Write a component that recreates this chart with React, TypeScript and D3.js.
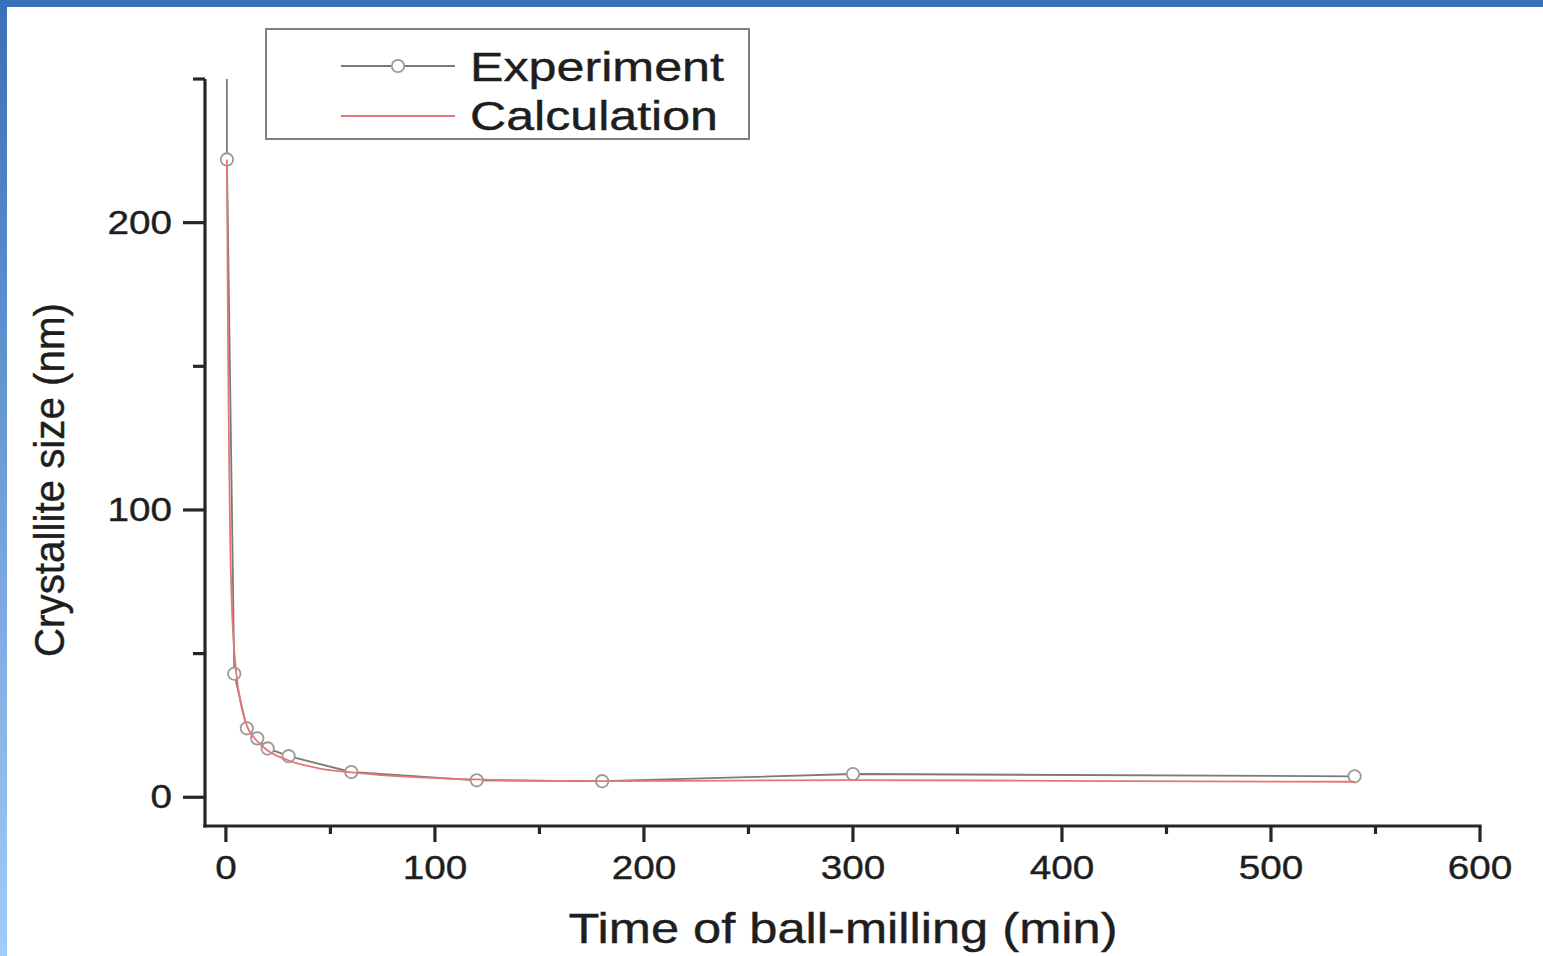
import React from 'react'
import * as d3 from 'd3'

// crystallite size vs ball-milling time
const expTime = [0, 0.5, 4, 10, 15, 20, 30, 60, 120, 180, 300, 540]
const expSize = [600, 222, 43, 24, 20.5, 17, 14.3, 8.8, 5.9, 5.6, 8.1, 7.3]

const calcTime = [0.5, 1, 1.5, 2, 3, 4, 5, 7, 10, 15, 20, 30, 45, 60, 90, 120, 180, 240, 300, 400, 540]
const calcSize = [222, 160, 120, 92, 64, 51, 43, 33, 25, 19.5, 16.3, 12.8, 10, 8.7, 7, 6.2, 5.6, 5.8, 6.0, 5.7, 5.4]

const xMajor = [0, 100, 200, 300, 400, 500, 600]
const xMinor = [50, 150, 250, 350, 450, 550]
const yMajor = [0, 100, 200]
const yMinor = [50, 150, 250]

const FONT = '"Liberation Sans", Arial, Helvetica, sans-serif'
const INK = '#1e1e1e'

function App () {
  const width = 1543
  const height = 956
  const left = 205
  const right = 1480
  const top = 79
  const bottom = 826

  const x = d3.scaleLinear().domain([-10, 600]).range([left, right])
  const y = d3.scaleLinear().domain([-10, 250]).range([bottom, top])

  const expData = expTime.map((t, i) => [t, expSize[i]] as [number, number])
  const calcData = calcTime.map((t, i) => [t, calcSize[i]] as [number, number])

  const expLine = d3.line<[number, number]>()
    .x(d => x(d[0]))
    .y(d => y(d[1]))
  const calcLine = d3.line<[number, number]>()
    .x(d => x(d[0]))
    .y(d => y(d[1]))
    .curve(d3.curveMonotoneX)

  return (
    <svg width={width} height={height}
      style={{ position: 'absolute', left: 0, top: 0, background: '#fff' }}>
      <defs>
        <linearGradient id='side' x1='0' y1='0' x2='0' y2='1'>
          <stop offset='0%' stopColor='#3a70b8' />
          <stop offset='100%' stopColor='#a3cbf8' />
        </linearGradient>
        <clipPath id='plot'>
          <rect x={left} y={top} width={right - left} height={bottom - top} />
        </clipPath>
      </defs>
      <rect x={0} y={0} width={width} height={7} fill='#3871b8' />
      <rect x={0} y={0} width={7} height={height} fill='url(#side)' />

      <g clipPath='url(#plot)'>
        <path d={expLine(expData) || ''} fill='none' stroke='#7a7a7a' strokeWidth={1.8} />
        {expData.map((d, i) => (
          <circle key={i} cx={x(d[0])} cy={y(d[1])} r={6.2}
            fill='#fff' stroke='#9a9a9a' strokeWidth={1.8} />
        ))}
        <path d={calcLine(calcData) || ''} fill='none' stroke='#e77575' strokeWidth={1.8} />
      </g>

      {/* axes */}
      <g stroke='#262626' strokeWidth={3.2}>
        <line x1={left} y1={top} x2={left} y2={bottom + 1.6} />
        <line x1={left - 1.6} y1={bottom} x2={right + 1.6} y2={bottom} />
        {xMajor.map(v => <line key={'xM' + v} x1={x(v)} x2={x(v)} y1={bottom} y2={bottom + 16} />)}
        {xMinor.map(v => <line key={'xm' + v} x1={x(v)} x2={x(v)} y1={bottom} y2={bottom + 8} />)}
        {yMajor.map(v => <line key={'yM' + v} x1={left} x2={left - 22} y1={y(v)} y2={y(v)} />)}
        {yMinor.map(v => <line key={'ym' + v} x1={left} x2={left - 12} y1={y(v)} y2={y(v)} />)}
      </g>

      <g fontFamily={FONT} fontSize={33} fill={INK} stroke={INK} strokeWidth={0.4}>
        {xMajor.map(v => {
          const s = String(v)
          return (
            <text key={'xl' + v} x={x(v)} y={879} textAnchor='middle'
              textLength={s.length * 21.5} lengthAdjust='spacingAndGlyphs'>{s}</text>
          )
        })}
        {yMajor.map(v => {
          const s = String(v)
          return (
            <text key={'yl' + v} x={172} y={y(v) + 11} textAnchor='end'
              textLength={s.length * 21.5} lengthAdjust='spacingAndGlyphs'>{s}</text>
          )
        })}
      </g>

      <g fontFamily={FONT} fill={INK} stroke={INK} strokeWidth={0.4}>
        <text x={843} y={943} textAnchor='middle' fontSize={42}
          textLength={549} lengthAdjust='spacingAndGlyphs'>Time of ball-milling (min)</text>
        <text transform='translate(64,480) rotate(-90)' textAnchor='middle'
          fontSize={42} textLength={354} lengthAdjust='spacingAndGlyphs'>
          Crystallite size (nm)
        </text>
      </g>

      {/* legend */}
      <rect x={266} y={29} width={483} height={110} fill='#fff' stroke='#808080' strokeWidth={2} />
      <line x1={341} x2={455} y1={66} y2={66} stroke='#7a7a7a' strokeWidth={1.8} />
      <circle cx={398} cy={66} r={6.2} fill='#fff' stroke='#9a9a9a' strokeWidth={1.8} />
      <line x1={341} x2={455} y1={116} y2={116} stroke='#e77575' strokeWidth={1.8} />
      <g fontFamily={FONT} fontSize={40} fill={INK} stroke={INK} strokeWidth={0.4}>
        <text x={470} y={81} textLength={254} lengthAdjust='spacingAndGlyphs'>Experiment</text>
        <text x={470} y={130} textLength={248} lengthAdjust='spacingAndGlyphs'>Calculation</text>
      </g>
    </svg>
  )
}

export default App
